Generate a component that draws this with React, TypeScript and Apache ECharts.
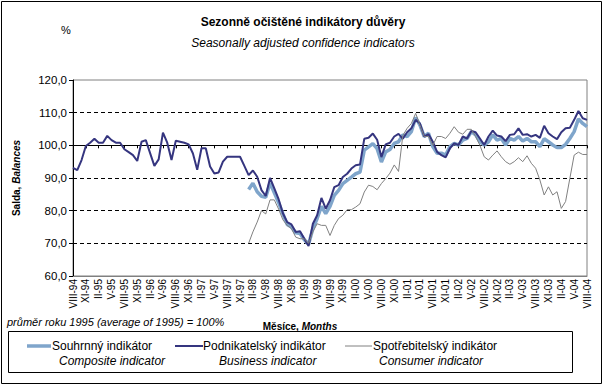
import React, { useEffect, useRef } from "react";
import * as echarts from "echarts";

const FONT = "'Liberation Sans', Arial, sans-serif";

const ROMAN = ["I", "II", "III", "IV", "V", "VI", "VII", "VIII", "IX", "X", "XI", "XII"];
// months VIII-94 .. VIII-04
const categories: string[] = [];
for (let k = 0; k < 121; k++) {
  const m = (7 + k) % 12;
  const y = 94 + Math.floor((7 + k) / 12);
  categories.push(`${ROMAN[m]}-${String(y % 100).padStart(2, "0")}`);
}

const yTicks = [60, 70, 80, 90, 100, 110, 120];

const business = [
  93.1, 92.4, 95.5, 99.8, 100.8, 102.0, 100.8, 100.8, 102.9, 101.6,
  100.8, 100.8, 98.8, 97.9, 97.0, 95.2, 101.1, 101.6, 97.6, 93.7,
  95.7, 103.9, 100.8, 95.5, 101.4, 101.1, 100.8, 100.3, 97.5, 92.5,
  99.1, 99.1, 93.5, 91.4, 91.7, 95.0, 96.5, 96.5, 96.5, 96.5,
  93.7, 90.9, 92.3, 90.4, 86.3, 84.5, 90.0, 86.8, 83.5, 79.2,
  76.5, 75.8, 73.5, 73.7, 71.4, 69.2, 76.0, 78.6, 83.9, 80.6,
  83.2, 87.2, 87.8, 90.3, 91.3, 92.9, 93.9, 94.1, 102.0, 102.3,
  103.6, 101.7, 96.4, 100.3, 100.8, 102.7, 103.5, 102.0, 104.0, 105.2,
  107.8, 106.7, 102.7, 103.4, 101.1, 98.0, 97.0, 96.3, 99.1, 100.6,
  100.1, 102.7, 102.1, 104.4, 104.0, 102.1, 100.1, 102.7, 104.5, 103.0,
  102.7, 101.3, 103.2, 103.4, 105.2, 103.2, 103.4, 102.7, 103.2, 102.3,
  106.0, 103.7, 102.7, 101.9, 104.0, 105.2, 105.4, 107.8, 110.5, 108.3,
  107.8,
];

// composite and consumer indicators start at I-98 (index 41)
const seriesStart = 41;
const composite = [
  86.5, 88.4, 85.8, 84.4, 84.1, 88.5, 85.5, 82.5, 79.0, 75.8,
  75.0, 73.2, 73.0, 71.1, 69.7, 74.5, 77.6, 81.3, 79.1, 81.3,
  84.7, 86.2, 88.3, 89.3, 90.3, 91.3, 91.8, 98.5, 99.5, 100.5,
  99.0, 94.9, 98.0, 98.7, 100.6, 101.1, 103.2, 102.7, 104.2, 108.5,
  106.2, 102.7, 103.7, 99.6, 97.6, 97.6, 97.0, 99.6, 100.6, 100.1,
  101.6, 102.1, 104.2, 103.2, 101.1, 100.1, 101.1, 103.2, 101.6, 102.1,
  100.1, 102.1, 101.6, 102.7, 101.3, 102.1, 101.1, 101.1, 99.6, 102.0,
  101.1, 100.1, 99.3, 99.3, 100.3, 102.1, 104.2, 108.1, 106.7, 105.7,
];
const consumer = [
  70.0, 73.5, 76.5, 80.0, 79.0, 83.3, 83.3, 80.5, 77.2, 75.5,
  74.5, 71.9, 71.4, 71.4, 70.0, 73.5, 76.0, 75.5, 75.5, 72.4,
  75.5, 77.6, 78.6, 80.3, 80.3, 81.1, 82.1, 85.7, 87.8, 87.4,
  86.4, 88.3, 89.8, 91.5, 94.0, 92.0, 103.0, 105.2, 106.7, 109.8,
  106.2, 102.7, 102.7, 100.0, 102.7, 102.7, 102.1, 103.7, 105.7, 104.0,
  103.4, 104.9, 104.9, 102.7, 100.0, 96.5, 95.5, 97.0, 98.3, 96.5,
  95.0, 94.2, 95.0, 96.2, 95.0, 96.8, 94.5, 93.0, 89.4, 84.8,
  87.3, 84.8, 85.8, 80.7, 82.8, 89.9, 97.0, 97.9, 97.2, 97.2,
];

const pad = (arr: number[]) => [
  ...new Array(seriesStart).fill(null),
  ...arr,
];

const C_COMP = "#7fa5cb";
const C_BUS = "#35357f";
const C_CONS = "#808080";

const GRID_LEFT = 73;
const GRID_RIGHT = 17;
const GRID_TOP = 80;
const GRID_BOTTOM = 111;
const PLOT_H = 387 - GRID_TOP - GRID_BOTTOM;

export default function App() {
  const ref = useRef<HTMLDivElement>(null);
  useEffect(() => {
    if (!ref.current) return;
    const chart = echarts.init(ref.current, null, { renderer: "svg" });
    const yMin = yTicks[0];
    const yMax = yTicks[yTicks.length - 1];
    const h100 = (PLOT_H * (yMax - 100)) / (yMax - yMin);
    chart.setOption({
      animation: false,
      backgroundColor: "#fff",
      textStyle: { fontFamily: FONT },
      grid: [
        {
          left: GRID_LEFT,
          right: GRID_RIGHT,
          top: GRID_TOP,
          bottom: GRID_BOTTOM,
          show: true,
          borderColor: "#808080",
          borderWidth: 1,
          backgroundColor: "transparent",
        },
        {
          left: GRID_LEFT,
          right: GRID_RIGHT,
          top: GRID_TOP,
          height: h100,
          show: false,
        },
      ],
      xAxis: [
        {
          type: "category",
          gridIndex: 0,
          data: categories,
          boundaryGap: false,
          axisLine: { show: true, lineStyle: { color: "#808080", width: 1 } },
          axisTick: { show: false },
          axisLabel: {
            interval: 2,
            rotate: 90,
            fontSize: 10,
            color: "#000",
            margin: 3,
            fontFamily: FONT,
          },
          splitLine: { show: false },
        },
        {
          type: "category",
          gridIndex: 1,
          data: categories,
          boundaryGap: false,
          axisLine: { show: true, lineStyle: { color: "#000", width: 1 } },
          axisTick: {
            show: true,
            interval: 2,
            length: 3,
            lineStyle: { color: "#000" },
          },
          axisLabel: { show: false },
          splitLine: { show: false },
        },
      ],
      yAxis: [
        {
          type: "value",
          gridIndex: 0,
          min: yMin,
          max: yMax,
          interval: 10,
          name: "{b|Salda, }{bi|Balances}",
          nameLocation: "middle",
          nameGap: 52,
          nameRotate: 90,
          nameTextStyle: {
            rich: {
              b: { fontWeight: "bold", fontSize: 10, fontFamily: FONT, color: "#000" },
              bi: {
                fontWeight: "bold",
                fontStyle: "italic",
                fontSize: 10,
                fontFamily: FONT,
                color: "#000",
              },
            },
          },
          axisLine: { show: true, lineStyle: { color: "#000", width: 1 } },
          axisTick: { show: true, length: 4, lineStyle: { color: "#000" } },
          axisLabel: {
            fontSize: 11.5,
            color: "#000",
            margin: 6,
            fontFamily: FONT,
            formatter: (v: number) => v.toFixed(1).replace(".", ","),
          },
          splitLine: {
            show: true,
            showMinLine: false,
            showMaxLine: false,
            lineStyle: { color: "#000", type: [4, 3], width: 1 },
          },
        },
        {
          type: "value",
          gridIndex: 1,
          show: false,
          min: 0,
          max: 1,
        },
      ],
      series: [
        {
          name: "Souhrnný indikátor",
          type: "line",
          xAxisIndex: 0,
          yAxisIndex: 0,
          data: pad(composite),
          showSymbol: false,
          symbol: "none",
          lineStyle: { color: C_COMP, width: 3.5 },
          itemStyle: { color: C_COMP },
          z: 3,
        },
        {
          name: "Podnikatelský indikátor",
          type: "line",
          xAxisIndex: 0,
          yAxisIndex: 0,
          data: business,
          showSymbol: false,
          symbol: "none",
          lineStyle: { color: C_BUS, width: 2 },
          itemStyle: { color: C_BUS },
          z: 4,
        },
        {
          name: "Spotřebitelský indikátor",
          type: "line",
          xAxisIndex: 0,
          yAxisIndex: 0,
          data: pad(consumer),
          showSymbol: false,
          symbol: "none",
          lineStyle: { color: C_CONS, width: 1 },
          itemStyle: { color: C_CONS },
          z: 5,
        },
      ],
      graphic: [
        {
          type: "rect",
          shape: { x: 1.5, y: 1.5, width: 600, height: 382 },
          style: { fill: "none", stroke: "#000", lineWidth: 1 },
          silent: true,
        },
        {
          type: "text",
          x: 66,
          y: 30,
          style: { text: "%", font: `11px ${FONT}`, fill: "#000", textAlign: "center", textVerticalAlign: "middle" },
        },
        {
          type: "text",
          x: 303,
          y: 22,
          style: {
            text: "Sezonně očištěné indikátory důvěry",
            font: `bold 12px ${FONT}`,
            fill: "#000",
            textAlign: "center",
            textVerticalAlign: "middle",
          },
        },
        {
          type: "text",
          x: 303,
          y: 43,
          style: {
            text: "Seasonally adjusted confidence indicators",
            font: `italic 12px ${FONT}`,
            fill: "#000",
            textAlign: "center",
            textVerticalAlign: "middle",
          },
        },
        {
          type: "text",
          x: 7,
          y: 322,
          style: {
            text: "průměr roku 1995 (average of 1995) = 100%",
            font: `italic 11px ${FONT}`,
            fill: "#000",
            textAlign: "left",
            textVerticalAlign: "middle",
          },
        },
        {
          type: "text",
          x: 300,
          y: 326,
          style: {
            text: "{b|Měsíce, }{bi|Months}",
            textAlign: "center",
            textVerticalAlign: "middle",
            rich: {
              b: { font: `bold 10px ${FONT}`, fill: "#000" },
              bi: { font: `italic bold 10px ${FONT}`, fill: "#000" },
            },
          },
        },
        {
          type: "rect",
          shape: { x: 8.5, y: 331.5, width: 564, height: 41 },
          style: { fill: "none", stroke: "#000", lineWidth: 1 },
          silent: true,
        },
        // legend entry 1
        {
          type: "line",
          shape: { x1: 27, y1: 346, x2: 51, y2: 346 },
          style: { stroke: C_COMP, lineWidth: 3.5 },
        },
        {
          type: "text",
          x: 52,
          y: 346,
          style: { text: "Souhrnný indikátor", font: `12px ${FONT}`, fill: "#000", textVerticalAlign: "middle" },
        },
        {
          type: "text",
          x: 59,
          y: 361,
          style: { text: "Composite indicator", font: `italic 12px ${FONT}`, fill: "#000", textVerticalAlign: "middle" },
        },
        // legend entry 2
        {
          type: "line",
          shape: { x1: 175, y1: 346, x2: 203, y2: 346 },
          style: { stroke: C_BUS, lineWidth: 2 },
        },
        {
          type: "text",
          x: 203,
          y: 346,
          style: { text: "Podnikatelský indikátor", font: `12px ${FONT}`, fill: "#000", textVerticalAlign: "middle" },
        },
        {
          type: "text",
          x: 219,
          y: 361,
          style: { text: "Business indicator", font: `italic 12px ${FONT}`, fill: "#000", textVerticalAlign: "middle" },
        },
        // legend entry 3
        {
          type: "line",
          shape: { x1: 345, y1: 346, x2: 372, y2: 346 },
          style: { stroke: C_CONS, lineWidth: 1 },
        },
        {
          type: "text",
          x: 373,
          y: 346,
          style: { text: "Spotřebitelský indikátor", font: `12px ${FONT}`, fill: "#000", textVerticalAlign: "middle" },
        },
        {
          type: "text",
          x: 379,
          y: 361,
          style: { text: "Consumer indicator", font: `italic 12px ${FONT}`, fill: "#000", textVerticalAlign: "middle" },
        },
      ],
    });
    return () => chart.dispose();
  }, []);
  return (
    <div
      ref={ref}
      style={{ position: "absolute", left: 0, top: 0, width: 604, height: 387, background: "#fff" }}
    />
  );
}
